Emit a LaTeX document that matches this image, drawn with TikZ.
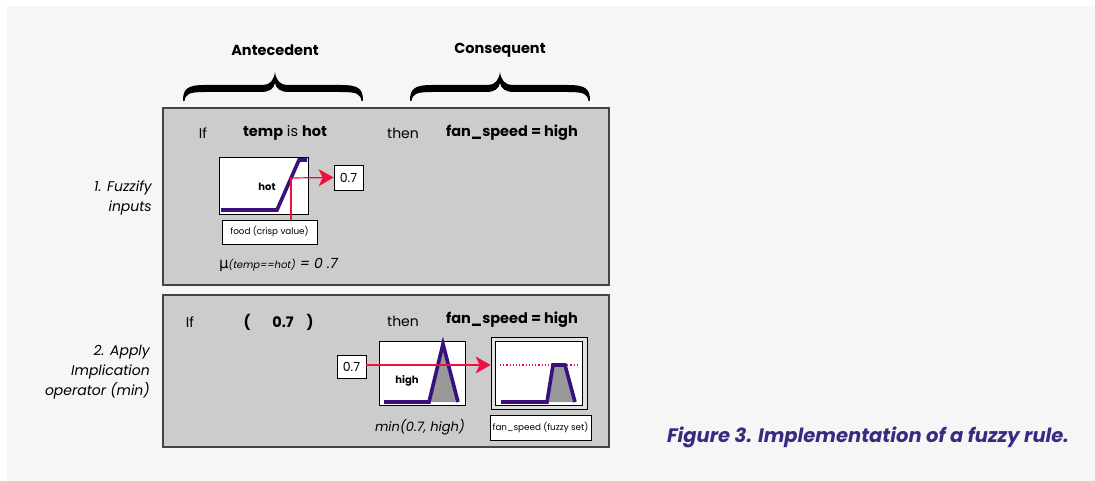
\documentclass[tikz,border=0pt]{standalone}
\usepackage{fontspec}
\setmainfont{Poppins}
\newfontfamily\greekfont{DejaVu Sans}
\usetikzlibrary{arrows.meta}
\definecolor{bgc}{HTML}{F6F6F6}
\definecolor{panelc}{HTML}{CCCCCC}
\definecolor{edgec}{HTML}{444444}
\definecolor{purp}{HTML}{3A0F7E}
\definecolor{redl}{HTML}{EE1040}
\definecolor{capc}{HTML}{352C82}
\definecolor{shadec}{HTML}{999999}
\definecolor{framec}{HTML}{E2E2E2}
\tikzset{
  panelbox/.style={draw=edgec, line width=1.6pt, fill=panelc, minimum width=446pt, inner sep=0pt},
  wbox/.style={draw=black, line width=0.7pt, fill=white, inner sep=0pt},
  txt/.style={font=\fontsize{14}{16}\selectfont, inner sep=0pt},
  btxt/.style={font=\fontsize{14.5}{16}\selectfont\bfseries, inner sep=0pt},
  small/.style={font=\fontsize{8.8}{10}\selectfont, inner sep=0pt},
  lbl/.style={font=\fontsize{14}{20}\selectfont\itshape, align=right, anchor=east, inner sep=0pt},
  mf/.style={purp, line width=3.6pt},
  redline/.style={draw=redl, line width=1.2pt},
  bracec/.style={fill=black},
}
\newcommand{\mybrace}[3]{% x0, xc, x1
  \fill[bracec] (#1,101) .. controls (#1,89) and (#1+4,85) .. (#1+22,85) -- (#2-12,85)
    .. controls (#2-5,85) and (#2-1,80) .. (#2,72)
    .. controls (#2+1,80) and (#2+5,85) .. (#2+12,85) -- (#3-22,85)
    .. controls (#3-4,85) and (#3,89) .. (#3,101)
    -- (#3-1.5,101) .. controls (#3-2.5,94) and (#3-6,92) .. (#3-22,92) -- (#2+14,92)
    .. controls (#2+6,92) and (#2+1,89) .. (#2,83)
    .. controls (#2-1,89) and (#2-6,92) .. (#2-14,92) -- (#1+22,92)
    .. controls (#1+6,92) and (#1+2.5,94) .. (#1+1.5,101) -- cycle;}
\begin{document}
\begin{tikzpicture}[x=1pt,y=-1pt]
\useasboundingbox (0,0) rectangle (1095,481);
\fill[white] (0,0) rectangle (1095,481);
\fill[bgc] (7,6) rectangle (1095,481);

% headings and braces
\node[btxt, font=\fontsize{14.5}{16}\selectfont\bfseries] (ant) at (275,50) {Antecedent};
\node[btxt, font=\fontsize{14.5}{16}\selectfont\bfseries] (cons) at (500,50) {Consequent};
\mybrace{183}{275}{363}
\mybrace{410}{500}{590}

% panels
\node[panelbox, minimum height=177pt] (p1) at (386,196.5) {};
\node[panelbox, minimum height=152pt] (p2) at (386,371) {};

% left labels
\node[lbl] (l1) at (152,198) {1. Fuzzify\\inputs};
\node[lbl] (l2) at (150,372) {2. Apply\\Implication\\operator (min)};

% panel 1 text
\node[txt] (if1) at (203,133) {If};
\node[txt, font=\fontsize{14.5}{16}\selectfont] (ante1) at (285,133) {\textbf{temp} is \textbf{hot}};
\node[txt] (then1) at (403,133) {then};
\node[btxt] (cq1) at (512,133) {fan\_speed = high};

% hot membership function
\node[wbox, minimum width=89pt, minimum height=57pt] (hotbox) at (263.5,185.5) {};
\draw[mf] (221,210) -- (277,210) -- (299,160) -- (307,160);
\node[small, font=\fontsize{10}{11}\selectfont\bfseries] (hotl) at (267,187) {hot};
\coordinate (hx) at (291,178);
\node[wbox, minimum width=95pt, minimum height=24pt, small] (food) at (269.5,232) {food (crisp value)};
\node[wbox, minimum width=29pt, minimum height=25pt, txt, font=\fontsize{12.5}{13}\selectfont] (v1) at (348.5,177.5) {0.7};
\draw[redline] (hx |- food.north) -- (hx);
\draw[redline, -{Stealth[length=15pt, width=17pt, inset=4pt]}] (hx) -- (v1.west);
\node[inner sep=0pt, anchor=base west] (mu) at (219,268) {{\greekfont\fontsize{15}{17}\selectfont μ}{\fontsize{10}{12}\selectfont\itshape(temp==hot)}{\fontsize{14}{16}\selectfont\itshape\ = 0 .7}};

% panel 2 text
\node[txt] (if2) at (190,322) {If};
\node[btxt] (lp) at (247,322) {(};
\node[btxt] (v07) at (283,322) {0.7};
\node[btxt] (rp) at (310,322) {)};
\node[txt] (then2) at (403,321) {then};
\node[btxt] (cq2) at (512,320) {fan\_speed = high};

% high membership function
\node[wbox, minimum width=29pt, minimum height=23pt, txt, font=\fontsize{12.5}{13}\selectfont] (v2) at (351.5,366.5) {0.7};
\node[wbox, minimum width=86pt, minimum height=64pt] (highbox) at (422,373) {};
\fill[shadec] (429,402) -- (443,344) -- (458,402) -- cycle;
\draw[mf] (384,402) -- (429,402) -- (443,344) -- (458,402);
\node[small, font=\fontsize{10}{11}\selectfont\bfseries] (highl) at (407,381) {high};

% output fuzzy set
\node[draw=black, line width=0.7pt, fill=framec, minimum width=96pt, minimum height=72pt, inner sep=0pt] (outf) at (539,373) {};
\node[wbox, minimum width=87pt, minimum height=64pt] (outb) at (538.5,373) {};
\draw[draw=redl, line width=1.2pt, dash pattern=on 1.2pt off 2pt] (500,365) -- (578,365);
\fill[shadec] (547,402) -- (553,365) -- (565,365) -- (575,402) -- cycle;
\draw[mf] (501,402) -- (547,402) -- (553,365) -- (565,365) -- (575,402);
\draw[redline, -{Stealth[length=15pt, width=17pt, inset=4pt]}] (v2.east |- 0,365) -- (outf.west |- 0,365);

\node[txt, font=\fontsize{13}{15}\selectfont\itshape] (minl) at (420,427) {min(0.7, high)};
\node[wbox, minimum width=101pt, minimum height=25pt, small] (fs) at (540.5,427.5) {fan\_speed (fuzzy set)};

% caption
\node[inner sep=0pt, text=capc, font=\fontsize{19.5}{22}\selectfont\bfseries\itshape] (cap) at (868,437) {Figure 3. Implementation of a fuzzy rule.};
\end{tikzpicture}
\end{document}
